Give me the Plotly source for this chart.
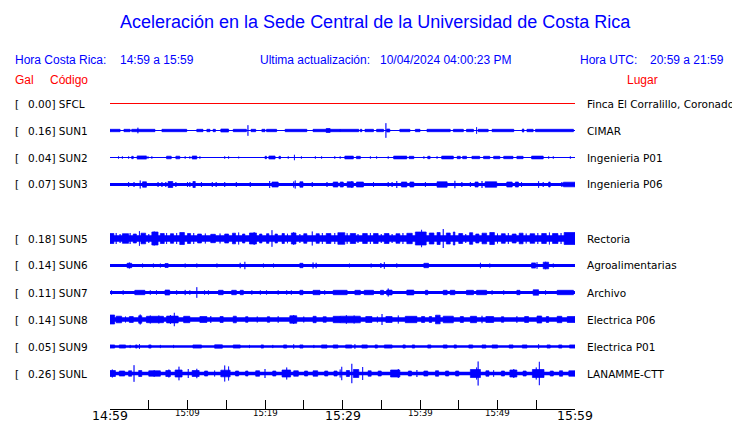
import plotly.graph_objects as go

# ---------------- data ----------------
codes = ["SFCL", "SUN1", "SUN2", "SUN3", "SUN5", "SUN6", "SUN7", "SUN8", "SUN9", "SUNL"]
places = ["Finca El Corralillo, Coronado", "CIMAR", "Ingenieria P01", "Ingenieria P06",
          "Rectoria", "Agroalimentarias", "Archivo", "Electrica P06", "Electrica P01", "LANAMME-CTT"]
gal = [0.00, 0.16, 0.04, 0.07, 0.18, 0.14, 0.11, 0.14, 0.05, 0.26]
# half thickness of the continuous trace band (screen px)
base_amp = [0.0, 0.5, 0.5, 1.6, 3.3, 1.6, 1.6, 2.3, 1.2, 1.7]

# bursts: (start minute, end minute, half amplitude px); minutes after 14:59
sfcl_bursts = []
sun1_bursts = [(0.0, 1.3, 1.2), (1.8, 2.6, 1.2), (2.8, 5.8, 1.2), (3.6, 3.6, 2.8), (6.7, 9.9, 1.2),
               (11.2, 12.0, 1.2), (12.5, 12.9, 1.2), (13.3, 13.6, 1.2), (14.3, 15.3, 1.5),
               (15.9, 17.6, 1.2), (17.8, 17.8, 5.3), (18.2, 18.8, 1.2), (19.6, 20.0, 1.2),
               (20.2, 21.5, 1.2), (22.6, 25.4, 1.2), (26.2, 29.7, 1.2), (27.9, 28.4, 2.0),
               (29.7, 32.1, 1.2), (32.3, 32.5, 1.2), (32.9, 34.0, 1.2), (34.4, 35.3, 1.2),
               (35.6, 35.6, 7.3), (35.7, 36.1, 1.5), (37.4, 38.7, 1.2), (39.4, 40.0, 1.2),
               (40.9, 43.9, 1.2), (44.3, 45.6, 1.2), (46.0, 46.9, 1.2), (47.3, 47.3, 3.3),
               (47.5, 48.8, 1.2), (49.3, 52.1, 1.2), (53.2, 53.4, 1.5), (53.8, 54.6, 1.2),
               (54.9, 59.8, 1.2)]
sun2_bursts = [(1.1, 1.1, 1.2), (1.6, 1.6, 1.2), (2.4, 2.4, 1.2), (2.8, 3.0, 1.2), (3.5, 4.7, 1.6),
               (4.9, 4.9, 1.2), (5.4, 5.4, 1.2), (7.3, 7.9, 1.3), (8.5, 9.0, 1.3), (9.7, 9.7, 1.2),
               (10.3, 10.3, 1.2), (10.6, 11.2, 1.5), (11.6, 11.6, 1.2), (14.8, 14.8, 1.2),
               (15.3, 15.3, 1.2), (16.6, 16.6, 0.9), (20.0, 20.2, 1.2), (20.5, 21.3, 1.5),
               (21.8, 22.0, 1.2), (23.0, 23.0, 1.2), (23.8, 23.8, 2.7), (24.7, 24.7, 1.2),
               (26.5, 26.5, 1.2), (27.3, 27.3, 1.2), (29.0, 29.0, 1.2), (29.7, 29.7, 1.2),
               (30.3, 31.4, 1.4), (31.8, 32.3, 1.2), (33.6, 33.6, 1.2), (34.4, 34.4, 1.2),
               (35.9, 35.9, 1.2), (36.6, 38.3, 1.4), (38.6, 39.2, 1.2), (40.5, 40.5, 1.2),
               (41.0, 41.3, 1.2), (42.2, 42.2, 1.2), (42.8, 44.3, 1.4), (44.8, 45.2, 1.2),
               (45.5, 46.0, 1.2), (46.7, 47.7, 1.2), (48.2, 49.0, 1.2), (49.5, 50.3, 1.2),
               (50.8, 52.0, 1.2), (52.5, 53.3, 1.2), (54.4, 55.9, 1.4), (56.6, 56.6, 1.2),
               (57.2, 57.2, 1.2), (59.4, 59.4, 1.2)]
sun3_bursts = [(2.4, 2.4, 2.5), (3.1, 3.1, 2.5), (3.9, 3.9, 4.0), (4.2, 4.7, 2.7), (6.2, 6.2, 2.5),
               (6.7, 6.7, 2.5), (7.2, 7.2, 2.5), (7.5, 8.1, 3.0), (8.5, 8.5, 2.5), (10.0, 10.0, 2.5),
               (10.3, 10.3, 2.5), (10.7, 11.0, 3.0), (11.8, 11.8, 2.5), (13.2, 13.2, 2.5),
               (13.7, 13.7, 2.5), (14.8, 14.8, 2.5), (16.3, 16.3, 2.5), (18.1, 18.1, 2.5),
               (20.6, 20.6, 3.5), (20.9, 21.7, 2.5), (23.7, 23.7, 3.0), (23.9, 23.9, 4.0),
               (24.5, 24.9, 2.7), (26.1, 26.1, 2.5), (28.0, 28.0, 2.5), (28.8, 29.4, 2.5),
               (29.7, 30.1, 2.5), (30.6, 31.4, 2.7), (31.2, 31.2, 3.3), (31.8, 32.7, 2.5),
               (34.0, 34.0, 2.5), (35.9, 35.9, 2.5), (36.4, 36.4, 2.5), (37.0, 37.0, 3.5),
               (37.6, 38.3, 2.5), (38.7, 39.2, 2.5), (40.7, 40.7, 2.5), (42.2, 43.5, 2.7),
               (44.5, 44.5, 3.7), (45.4, 45.4, 2.5), (46.5, 46.5, 2.5), (47.1, 47.5, 2.5),
               (48.0, 48.0, 3.5), (48.4, 49.9, 2.7), (51.2, 51.9, 2.5), (52.3, 52.7, 2.5),
               (53.1, 53.1, 2.5), (55.3, 55.3, 3.3), (55.9, 55.9, 2.5), (56.6, 56.8, 2.5),
               (58.3, 58.3, 2.5), (58.5, 60.0, 2.3)]
sun5_bursts = [(0.0, 0.5, 5.0), (0.8, 0.8, 5.5), (1.3, 1.3, 4.5), (1.6, 2.4, 4.8), (2.6, 2.6, 5.5),
               (3.0, 3.4, 4.5), (3.8, 3.8, 7.3), (4.0, 4.6, 5.3), (5.0, 5.0, 4.5), (5.4, 6.2, 6.5),
               (5.7, 5.7, 7.0), (6.5, 7.0, 5.0), (7.3, 7.3, 5.5), (7.8, 8.2, 4.8), (8.6, 8.6, 5.5),
               (9.0, 9.6, 6.0), (10.0, 10.4, 5.0), (10.8, 10.8, 5.5), (11.3, 11.8, 4.5),
               (12.3, 12.3, 5.0), (13.0, 13.6, 4.2), (14.2, 14.2, 5.0), (14.8, 15.3, 4.5),
               (15.8, 16.2, 5.3), (16.6, 16.6, 6.0), (17.1, 17.4, 4.5), (18.0, 18.9, 5.5),
               (18.6, 18.6, 6.3), (19.3, 19.6, 4.5), (20.2, 20.5, 4.8), (20.9, 20.9, 8.3),
               (21.3, 21.6, 4.5), (22.2, 22.5, 5.0), (22.9, 22.9, 4.8), (23.4, 24.0, 5.5),
               (23.7, 23.7, 6.3), (24.5, 24.5, 4.5), (25.0, 25.4, 4.8), (26.1, 26.1, 7.0),
               (26.6, 27.0, 4.8), (27.4, 27.4, 5.5), (27.9, 28.5, 5.0), (29.0, 29.0, 5.5),
               (29.4, 30.3, 5.8), (30.6, 30.6, 5.3), (31.0, 31.7, 5.0), (32.0, 32.0, 4.5),
               (32.6, 33.2, 5.0), (33.6, 33.6, 5.5), (34.0, 34.6, 5.0), (35.0, 35.0, 4.5),
               (35.4, 36.0, 5.0), (36.4, 36.4, 4.5), (36.9, 37.4, 4.8), (37.8, 37.8, 5.5),
               (38.3, 39.0, 5.2), (39.4, 40.8, 6.5), (40.2, 40.2, 8.7), (41.2, 41.8, 5.5),
               (42.2, 42.6, 6.0), (43.0, 43.0, 9.5), (43.4, 43.9, 5.5), (44.3, 44.5, 6.5),
               (45.0, 45.5, 5.0), (45.9, 45.9, 4.5), (46.4, 46.8, 5.8), (47.2, 47.6, 4.5),
               (48.0, 48.6, 5.3), (49.0, 49.6, 6.0), (50.0, 50.0, 5.0), (50.5, 51.0, 4.8),
               (51.4, 51.4, 5.5), (51.9, 52.4, 4.5), (52.8, 53.3, 5.3), (53.7, 53.7, 5.0),
               (54.2, 54.8, 4.8), (55.2, 55.2, 5.5), (55.7, 56.3, 5.0), (56.7, 56.7, 6.0),
               (57.1, 57.8, 5.0), (58.2, 58.2, 5.5), (58.6, 60.0, 6.0)]
sun6_bursts = [(2.2, 2.8, 2.2), (2.5, 2.5, 3.0), (4.2, 4.2, 2.0), (5.6, 5.6, 2.0), (6.5, 6.5, 2.0),
               (7.1, 7.5, 2.0), (9.7, 9.7, 2.0), (11.2, 11.2, 2.0), (13.8, 13.8, 2.0),
               (16.8, 16.8, 2.7), (17.4, 17.4, 3.7), (19.8, 19.8, 2.0), (21.1, 21.1, 2.0),
               (24.5, 24.9, 2.2), (26.2, 26.2, 3.0), (26.6, 26.6, 2.7), (30.9, 30.9, 1.9),
               (33.7, 33.7, 2.0), (34.9, 35.0, 2.0), (35.4, 35.4, 3.3), (37.0, 37.0, 2.1),
               (40.5, 41.1, 2.2), (47.8, 47.8, 2.7), (49.0, 49.0, 2.0), (54.4, 54.9, 2.6),
               (55.1, 55.1, 3.3), (55.9, 56.6, 3.3), (56.2, 56.2, 3.7), (57.2, 57.2, 2.0)]
sun7_bursts = [(0.2, 0.2, 2.2), (1.7, 1.7, 2.2), (3.2, 4.5, 2.2), (5.2, 5.2, 2.2), (6.0, 6.0, 2.2),
               (7.1, 7.7, 2.5), (8.6, 8.6, 2.2), (9.7, 9.7, 2.6), (10.3, 10.3, 2.2),
               (11.2, 11.2, 5.3), (12.2, 12.2, 2.2), (12.7, 12.7, 2.2), (14.0, 14.6, 2.2),
               (15.7, 16.3, 2.2), (16.8, 17.2, 2.2), (18.3, 18.3, 2.2), (19.4, 19.4, 2.2),
               (20.2, 20.2, 2.2), (21.7, 21.7, 2.2), (22.8, 22.8, 2.2), (23.4, 23.4, 2.2),
               (24.5, 24.9, 2.2), (26.2, 27.1, 2.2), (27.7, 27.7, 2.2), (28.8, 30.6, 2.2),
               (31.6, 32.3, 2.2), (32.8, 34.0, 2.2), (34.9, 35.3, 2.2), (35.7, 36.4, 2.4),
               (35.9, 35.9, 4.0), (38.3, 39.2, 2.4), (40.7, 41.0, 2.2), (43.0, 43.5, 2.2),
               (43.9, 44.5, 2.2), (46.0, 46.9, 2.2), (47.3, 48.6, 2.2), (49.3, 49.3, 2.2),
               (50.8, 50.8, 2.2), (52.5, 52.9, 2.2), (54.6, 55.3, 2.7), (56.2, 56.2, 2.2),
               (57.7, 59.8, 2.2)]
sun8_bursts = [(0.0, 0.6, 4.5), (0.8, 1.5, 3.3), (2.0, 2.0, 3.0), (2.5, 3.0, 3.0), (3.7, 4.1, 3.7),
               (3.9, 3.9, 5.0), (4.7, 6.9, 3.2), (5.2, 5.2, 4.0), (6.3, 6.3, 4.0), (7.3, 8.8, 3.4),
               (8.3, 8.3, 6.7), (7.8, 7.8, 4.5), (9.5, 10.3, 3.2), (11.6, 12.5, 3.0),
               (13.0, 13.0, 3.5), (14.2, 14.6, 3.0), (15.9, 16.3, 3.3), (17.5, 17.8, 2.8),
               (19.0, 19.0, 3.0), (20.3, 20.6, 2.8), (21.7, 21.7, 3.3), (23.2, 24.1, 3.7),
               (23.7, 23.7, 4.5), (25.0, 25.0, 3.0), (26.2, 26.6, 3.2), (27.5, 27.9, 2.8),
               (28.8, 29.7, 3.2), (29.7, 32.3, 3.3), (30.5, 30.5, 4.3), (31.5, 31.5, 4.0),
               (33.0, 33.8, 3.0), (34.5, 34.5, 3.0), (35.1, 35.1, 5.5), (35.6, 36.4, 3.0),
               (37.2, 37.2, 4.0), (38.1, 39.6, 3.2), (40.2, 40.6, 3.0), (41.2, 41.5, 3.0),
               (42.0, 42.6, 4.3), (43.0, 44.3, 3.3), (45.2, 45.6, 3.0), (46.5, 47.3, 3.2),
               (48.0, 48.0, 3.7), (48.5, 49.5, 3.0), (50.5, 50.8, 2.8), (52.5, 52.5, 3.3),
               (53.5, 54.0, 3.0), (55.1, 55.7, 3.5), (56.3, 56.6, 3.0), (57.7, 58.3, 3.2),
               (59.0, 60.0, 3.0)]
sun9_bursts = [(0.0, 0.6, 1.6), (1.2, 2.0, 1.6), (2.6, 2.6, 1.6), (3.3, 3.5, 1.6), (3.8, 3.8, 2.5),
               (5.0, 5.3, 1.6), (6.5, 6.5, 1.6), (8.2, 8.2, 1.6), (10.7, 11.8, 1.6),
               (13.5, 14.5, 1.7), (15.9, 16.8, 1.6), (18.0, 18.0, 1.6), (19.5, 19.8, 1.6),
               (21.0, 21.0, 1.6), (22.4, 22.8, 1.6), (23.7, 23.7, 2.2), (24.5, 24.9, 1.6),
               (26.3, 26.3, 1.6), (27.3, 28.0, 1.6), (28.8, 29.4, 1.6), (30.4, 31.2, 1.6),
               (31.6, 31.6, 2.3), (32.5, 33.2, 1.6), (34.2, 34.5, 1.6), (35.4, 36.4, 1.6),
               (37.8, 38.1, 1.6), (39.0, 39.3, 1.6), (41.0, 41.4, 1.6), (43.0, 43.5, 1.6),
               (44.4, 44.7, 1.6), (46.3, 46.8, 1.6), (48.0, 48.5, 1.6), (49.3, 50.0, 1.6),
               (51.5, 52.0, 1.6), (53.2, 53.8, 1.6), (55.3, 55.3, 2.3), (56.4, 56.8, 1.6),
               (57.9, 58.3, 1.6), (59.3, 60.0, 1.6)]
sunl_bursts = [(0.0, 0.7, 3.0), (0.3, 0.3, 4.0), (1.2, 1.9, 2.5), (2.4, 2.8, 2.7), (3.1, 3.1, 8.3),
               (3.7, 4.1, 3.0), (5.0, 6.5, 2.7), (5.7, 5.7, 3.3), (7.2, 7.8, 3.0), (7.6, 7.6, 4.0),
               (8.4, 9.3, 3.5), (8.9, 8.9, 6.8), (10.1, 10.1, 4.5), (10.6, 11.5, 3.0),
               (11.2, 11.2, 4.7), (12.2, 12.6, 2.5), (13.5, 13.5, 3.0), (14.3, 15.5, 3.3),
               (14.8, 14.8, 8.0), (15.3, 15.3, 7.0), (16.2, 16.6, 2.5), (17.5, 17.8, 2.5),
               (18.8, 19.3, 2.7), (20.0, 20.0, 4.5), (21.0, 21.4, 2.5), (22.2, 23.3, 3.5),
               (22.8, 22.8, 6.0), (23.7, 24.3, 2.7), (25.1, 25.5, 2.5), (26.2, 26.8, 2.7),
               (27.7, 28.1, 2.5), (28.9, 29.3, 2.5), (29.7, 29.7, 4.0), (29.9, 29.9, 6.7),
               (30.5, 30.9, 3.0), (31.2, 31.2, 9.7), (31.4, 32.1, 4.0), (32.6, 32.6, 6.5),
               (33.3, 33.7, 2.7), (34.6, 35.0, 2.5), (36.2, 37.4, 3.5), (37.2, 37.2, 4.5),
               (38.5, 38.9, 2.5), (39.6, 39.6, 3.5), (40.5, 41.0, 2.5), (42.0, 42.4, 2.7),
               (43.3, 43.7, 2.5), (44.6, 45.0, 2.5), (46.5, 47.8, 4.0), (47.3, 47.3, 6.0),
               (47.5, 47.5, 12.0), (48.5, 48.9, 2.7), (49.5, 49.5, 3.3), (50.5, 50.9, 2.5),
               (51.6, 52.5, 3.5), (52.1, 52.1, 4.5), (53.3, 53.7, 2.5), (54.5, 56.0, 4.0),
               (55.4, 55.4, 11.7), (55.0, 55.0, 6.0), (56.8, 57.2, 2.5), (58.0, 58.4, 2.7),
               (59.2, 60.0, 2.7)]
bursts = [sfcl_bursts, sun1_bursts, sun2_bursts, sun3_bursts, sun5_bursts,
          sun6_bursts, sun7_bursts, sun8_bursts, sun9_bursts, sunl_bursts]

tick_minutes = list(range(0, 61, 5))
big_labels = {0: "14:59", 30: "15:29", 60: "15:59"}
small_labels = {10: "15:09", 20: "15:19", 40: "15:39", 50: "15:49"}

# ---------------- layout geometry (page pixels) ----------------
OFF = 8                   # default body margin of the html page
W, H = 740 - OFF, 423 - OFF
L, R = 110, 575           # plot area, page px
TOP, BOTTOM = OFF, 409    # plot area, page px (y data units == page px)
ROW0, ROW_STEP = 103.5, 27
TXT_PAD = 2               # annotation box padding
BLUE = "#0000ff"
RED = "#ff0000"


def px(x):
    return (x - L) / (R - L)


def py(y):
    return (BOTTOM - y) / (BOTTOM - TOP)


def pl(x):
    """paper x for a left-anchored annotation whose text starts at page px x"""
    return px(x - TXT_PAD)


fig = go.Figure()

for i, code in enumerate(codes):
    slot = i if i < 4 else i + 1      # SUN4 row is empty
    c = ROW0 + ROW_STEP * slot
    color = RED if code == "SFCL" else BLUE
    width = 1 if base_amp[i] == 0 else 2 * base_amp[i]
    fig.add_trace(go.Scatter(x=[0, 60], y=[c, c], mode="lines",
                             line=dict(color=color, width=width),
                             hoverinfo="skip", showlegend=False))
    xs, ys = [], []
    for t0, t1, a in bursts[i]:
        xs += [t0, t1, t1, t0, t0, None]
        ys += [c - a, c - a, c + a, c + a, c - a, None]
    if xs:
        fig.add_trace(go.Scatter(x=xs, y=ys, mode="lines", fill="toself",
                                 fillcolor=color, line=dict(color=color, width=0.7),
                                 hoverinfo="skip", showlegend=False))

ann = []
LAB = dict(family="DejaVu Sans", size=10.5, color="black")
for i, code in enumerate(codes):
    slot = i if i < 4 else i + 1
    c = ROW0 + ROW_STEP * slot
    ann.append(dict(x=pl(15), y=py(c), text="[", font=LAB))
    ann.append(dict(x=pl(28), y=py(c), text=f"{gal[i]:.2f}]\u00a0{code}", font=LAB))
    ann.append(dict(x=pl(587), y=py(c), text=places[i], font=LAB))

HF = dict(family="Liberation Sans", size=12, color=BLUE)
RF = dict(family="Liberation Sans", size=12, color=RED)
ann += [
    dict(x=pl(15), y=py(60), text="Hora Costa Rica:", font=HF),
    dict(x=pl(120), y=py(60), text="14:59 a 15:59", font=HF),
    dict(x=pl(260), y=py(60), text="Ultima actualización:", font=HF),
    dict(x=pl(380), y=py(60), text="10/04/2024 04:00:23 PM", font=HF),
    dict(x=pl(580), y=py(60), text="Hora UTC:", font=HF),
    dict(x=pl(650), y=py(60), text="20:59 a 21:59", font=HF),
    dict(x=pl(15), y=py(80), text="Gal", font=RF),
    dict(x=pl(50), y=py(80), text="Código", font=RF),
    dict(x=pl(627), y=py(80), text="Lugar", font=RF),
]
for a in ann:
    a.update(xref="paper", yref="paper", xanchor="left", yanchor="middle", showarrow=False)

ann.append(dict(x=px(375.5), y=py(22), xref="paper", yref="paper", xanchor="center",
                yanchor="middle", showarrow=False,
                text="Aceleración en la Sede Central de la Universidad de Costa Rica",
                font=dict(family="Liberation Sans", size=18, color=BLUE)))

for m, t in big_labels.items():
    ann.append(dict(x=m, y=py(415.5), xref="x", yref="paper", xanchor="center", yanchor="middle",
                    showarrow=False, text=t,
                    font=dict(family="DejaVu Sans", size=12.5, color="black")))
for m, t in small_labels.items():
    ann.append(dict(x=m, y=py(413), xref="x", yref="paper", xanchor="center", yanchor="middle",
                    showarrow=False, text=t,
                    font=dict(family="DejaVu Sans", size=8.6, color="black")))

fig.update_layout(
    width=W, height=H,
    margin=dict(l=L - OFF, r=(W + OFF) - R, t=TOP - OFF, b=(H + OFF) - BOTTOM, pad=0),
    paper_bgcolor="white", plot_bgcolor="white",
    showlegend=False,
    annotations=ann,
    xaxis=dict(range=[0, 60], tickvals=tick_minutes, showticklabels=False,
               ticks="inside", ticklen=9, tickwidth=1, tickcolor="black",
               showline=True, linecolor="black", linewidth=1,
               showgrid=False, zeroline=False, fixedrange=True),
    yaxis=dict(range=[BOTTOM, TOP], visible=False, showgrid=False, zeroline=False,
               fixedrange=True),
)

fig.write_html("out.html")
